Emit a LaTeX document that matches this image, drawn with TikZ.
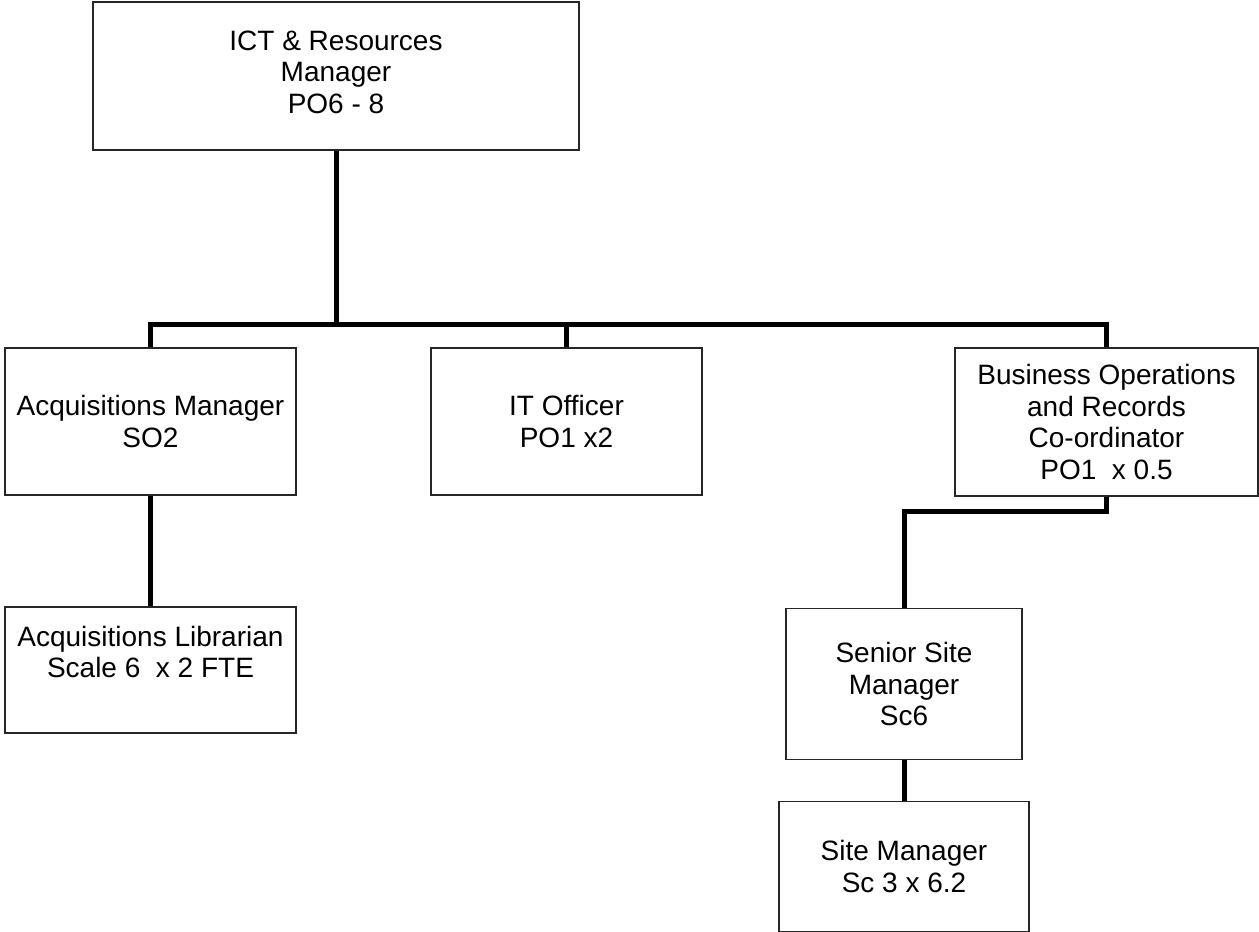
\documentclass[tikz,border=0pt]{standalone}
\usepackage{fontspec}
\setmainfont{Liberation Sans}
\begin{document}
\begin{tikzpicture}[x=1pt,y=-1pt,
  box/.style={draw=black!85, line width=1.2pt, rectangle, align=center, inner sep=0pt,
    font=\fontsize{28}{31.5}\selectfont},
  txt/.style={align=center, inner sep=0pt, font=\fontsize{28}{31.5}\selectfont},
  conn/.style={line width=5pt, line join=miter}]
\useasboundingbox[fill=white] (0,0) rectangle (1259,932);
\node[box, minimum width=486, minimum height=148] (top) at (336,76) {};
\node[txt] (toptxt) at (336,72) {ICT \& Resources\\Manager\\PO6 - 8};
\node[box, minimum width=291, minimum height=147] (acqm) at (150.5,421.5) {Acquisitions Manager\\SO2};
\node[box, minimum width=271, minimum height=147] (ito) at (566.5,421.5) {IT Officer\\PO1 x2};
\node[box, minimum width=303, minimum height=148] (bus) at (1106.5,422) {Business Operations\\and Records\\Co-ordinator\\PO1\ \ x 0.5};
\node[box, minimum width=291, minimum height=126] (lib) at (150.5,670) {};
\node[txt] (libtxt) at (150.5,652) {Acquisitions Librarian\\Scale 6\ \ x 2 FTE};
\node[box, minimum width=236, minimum height=151] (ssm) at (904,684) {Senior Site\\Manager\\Sc6};
\node[box, minimum width=250, minimum height=130] (sm) at (904,866.5) {Site Manager\\Sc 3 x 6.2};
\coordinate (barY) at (0,324);
\coordinate (elbowY) at (0,511);
\draw[conn] (top.south) -- (top.south |- barY);
\draw[conn] (acqm.north) -- (acqm.north |- barY) -- (bus.north |- barY) -- (bus.north);
\draw[conn] (ito.north) -- (ito.north |- barY);
\draw[conn] (acqm.south) -- (lib.north);
\draw[conn] (bus.south) -- (bus.south |- elbowY) -- (ssm.north |- elbowY) -- (ssm.north);
\draw[conn] (ssm.south) -- (sm.north);
\end{tikzpicture}
\end{document}
